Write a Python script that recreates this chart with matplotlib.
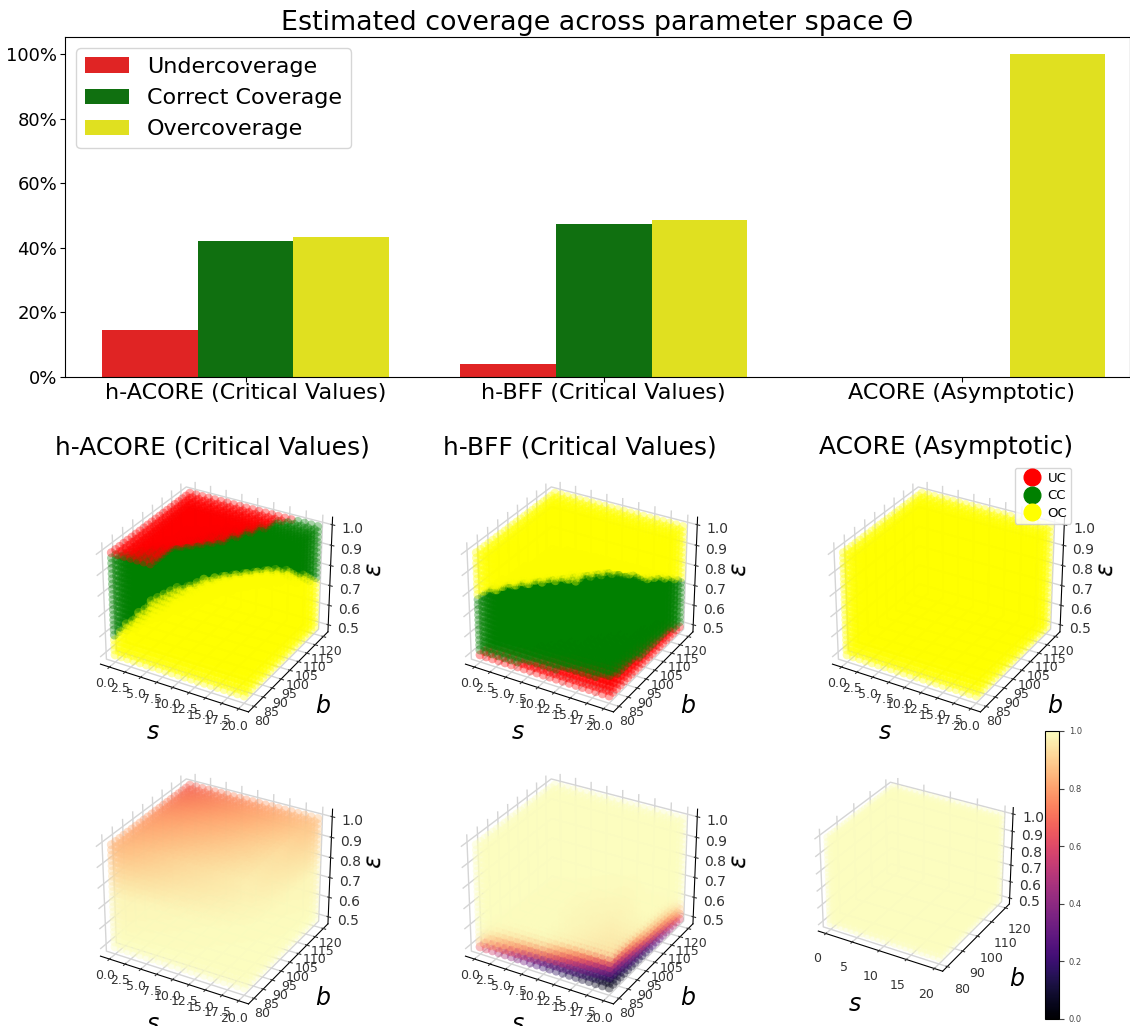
import numpy as np
import matplotlib
matplotlib.use("Agg")
import matplotlib.pyplot as plt
from matplotlib.lines import Line2D

methods = ["h-ACORE (Critical Values)", "h-BFF (Critical Values)", "ACORE (Asymptotic)"]
undercoverage = [0.145, 0.04, 0.0]
correct_coverage = [0.422, 0.475, 0.0]
overcoverage = [0.433, 0.485, 1.0]

s_levels = np.arange(0, 20.5, 1.0)
b_levels = np.arange(80, 122, 2.0)
eps_levels = np.arange(0.5, 1.001, 0.025)

# values, rows are b, columns are s
s_knots = [0, 5, 10, 15, 20]
b_knots = [80, 90, 100, 110, 120]
acore_uc_edge = [[1.00, 0.98, 1.08, 1.20, 1.30],
                 [0.93, 0.97, 1.05, 1.15, 1.25],
                 [0.88, 0.93, 0.98, 1.06, 1.15],
                 [0.85, 0.90, 0.95, 1.02, 1.10],
                 [0.82, 0.87, 0.92, 0.99, 1.03]]
acore_oc_edge = [[0.60, 0.80, 0.93, 1.02, 1.08],
                 [0.55, 0.70, 0.84, 0.95, 1.02],
                 [0.52, 0.62, 0.75, 0.87, 0.95],
                 [0.50, 0.58, 0.68, 0.78, 0.85],
                 [0.48, 0.55, 0.62, 0.68, 0.73]]
bff_uc_edge = [[0.51, 0.52, 0.54, 0.56, 0.58],
               [0.49, 0.50, 0.52, 0.54, 0.56],
               [0.48, 0.49, 0.50, 0.52, 0.54],
               [0.47, 0.48, 0.49, 0.50, 0.53],
               [0.46, 0.47, 0.48, 0.49, 0.52]]
bff_oc_edge = [[0.79, 0.88, 0.95, 1.00, 1.05],
               [0.78, 0.84, 0.90, 0.96, 1.00],
               [0.76, 0.80, 0.85, 0.88, 0.90],
               [0.74, 0.77, 0.80, 0.81, 0.82],
               [0.72, 0.74, 0.75, 0.75, 0.74]]

# coverage tables: one layer per eps knot, rows are b, columns are s
cov_s_knots = [0, 10, 20]
cov_b_knots = [80, 100, 120]
acore_eps_knots = [0.5, 0.75, 1.0]
acore_cov = [[[1, 1, 1], [1, 1, 1], [1, 1, 1]],
             [[0.98, 0.99, 1.0], [0.96, 0.98, 0.99], [0.93, 0.96, 0.98]],
             [[0.85, 0.92, 0.97], [0.78, 0.85, 0.93], [0.68, 0.78, 0.87]]]
bff_eps_knots = [0.5, 0.525, 0.55, 0.6, 0.65, 1.0]
bff_cov = [[[0.65, 0.20, 0.03], [0.80, 0.45, 0.15], [0.95, 0.75, 0.60]],
           [[0.90, 0.40, 0.08], [0.95, 0.70, 0.35], [1.00, 0.90, 0.75]],
           [[0.97, 0.70, 0.20], [1.00, 0.90, 0.60], [1.00, 1.00, 0.90]],
           [[1.00, 0.95, 0.55], [1.00, 1.00, 0.90], [1.00, 1.00, 1.00]],
           [[1.00, 1.00, 0.95], [1.00, 1.00, 1.00], [1.00, 1.00, 1.00]],
           [[1, 1, 1], [1, 1, 1], [1, 1, 1]]]

W, H = 1130, 1026
RED, GREEN, YELLOW = "#e02424", "#107010", "#e0e020"

S, B, E = [a.ravel() for a in np.meshgrid(s_levels, b_levels, eps_levels, indexing="ij")]


def surface(table, sk, bk, s, b):
    rows = np.array([np.interp(s, sk, r) for r in table])
    out = np.zeros(len(s))
    for k in range(len(s)):
        out[k] = np.interp(b[k], bk, rows[:, k])
    return out


def coverage(layers, ek):
    vals = np.array([surface(t, cov_s_knots, cov_b_knots, S, B) for t in layers])
    out = np.zeros(len(S))
    for k in range(len(S)):
        out[k] = np.interp(E[k], ek, vals[:, k])
    return out


def add3d(x, y, w, h):
    # pixel box to figure fraction
    a = fig.add_axes([x / W, 1 - (y + h) / H, w / W, h / H], projection="3d")
    a.patch.set_alpha(0)
    a.set_box_aspect((4, 4, 3.15), zoom=0.89)
    return a


def dress(ax, s_step=2.5, b_step=5, pad=-2, labelpad=4):
    ax.set_xticks(np.arange(0, 20.1, s_step))
    ax.set_yticks(np.arange(80, 120.1, b_step))
    ax.set_zticks(np.arange(0.5, 1.01, 0.1))
    ax.tick_params(axis="both", labelsize=9, pad=pad, colors="#333333")
    ax.tick_params(axis="z", labelsize=10, pad=2)
    ax.set_xlabel("$s$", fontsize=17, labelpad=labelpad)
    ax.set_ylabel("$b$", fontsize=17, labelpad=labelpad)
    ax.set_zlabel(r"$\epsilon$", fontsize=17, labelpad=1)
    for axis in [ax.xaxis, ax.yaxis, ax.zaxis]:
        axis.pane.set_facecolor((1, 1, 1, 0))
        axis.pane.set_edgecolor((1, 1, 1, 0))
        axis._axinfo["grid"]["color"] = "#d5d5d5"
        axis._axinfo["grid"]["linewidth"] = 1.0


fig = plt.figure(figsize=(W / 100, H / 100), dpi=100)

pos_top = [(62, 445), (427, 445), (794, 445)]
pos_bot = [(62, 737), (427, 737)]
size = 300

# top row, classified points
acore_uc = surface(acore_uc_edge, s_knots, b_knots, S, B)
acore_oc = surface(acore_oc_edge, s_knots, b_knots, S, B)
bff_uc = surface(bff_uc_edge, s_knots, b_knots, S, B)
bff_oc = surface(bff_oc_edge, s_knots, b_knots, S, B)

acore_cols = np.where(E > acore_uc, "red", np.where(E < acore_oc, "yellow", "green"))
bff_cols = np.where(E < bff_uc, "red", np.where(E > bff_oc, "yellow", "green"))
asym_cols = np.full(len(S), "yellow")

for p, cols in zip(pos_top, [acore_cols, bff_cols, asym_cols]):
    a3 = add3d(p[0], p[1], size, size)
    a3.scatter(S, B, E, c=list(cols), s=42, alpha=0.35, linewidths=0, depthshade=False)
    dress(a3)

for cx, name in zip([212, 579.5, 946.5], methods):
    fig.text(cx / W, 1 - 447 / H, name, fontsize=17.9, ha="center", va="center")

handles = [Line2D([], [], marker="o", ls="", color=c, markersize=12) for c in ["red", "green", "yellow"]]
fig.legend(handles, ["UC", "CC", "OC"], loc="upper left", bbox_to_anchor=(1008 / W, 1 - 461 / H),
           fontsize=9.5, borderpad=0.3, handletextpad=0.2, labelspacing=0.35)

# bottom row, estimated coverage
c_acore = coverage(acore_cov, acore_eps_knots)
c_bff = coverage(bff_cov, bff_eps_knots)
c_asym = np.ones(len(S))

for p, c in zip(pos_bot, [c_acore, c_bff]):
    a3 = add3d(p[0], p[1], size, size)
    a3.scatter(S, B, E, c=c, cmap="magma", vmin=0, vmax=1, s=42, alpha=0.4, linewidths=0, depthshade=False)
    dress(a3)

a3 = add3d(786, 747, 252, 252)
a3.scatter(S, B, E, c=c_asym, cmap="magma", vmin=0, vmax=1, s=36, alpha=0.4, linewidths=0, depthshade=False)
dress(a3, s_step=5, b_step=10, pad=3, labelpad=9)
a3.set_zlabel("")

ax = fig.add_axes([65 / W, 1 - 377 / H, (W - 65) / W, 340 / H])
x = np.arange(len(methods))
bw = 0.8 / 3
ax.bar(x - bw, undercoverage, bw, color=RED, label="Undercoverage")
ax.bar(x, correct_coverage, bw, color=GREEN, label="Correct Coverage")
ax.bar(x + bw, overcoverage, bw, color=YELLOW, label="Overcoverage")
ax.set_xlim(-0.504, 2.469)
ax.set_ylim(0, 1.053)
ax.set_xticks(x)
ax.set_xticklabels(methods, fontsize=16)
ax.tick_params(axis="x", pad=1)
ax.tick_params(axis="y", pad=2)
ax.set_yticks(np.arange(0, 1.01, 0.2))
ax.set_yticklabels(["%d%%" % v for v in range(0, 101, 20)], fontsize=13)
ax.set_title("Estimated coverage across parameter space \u0398", fontsize=19.4, pad=5)
ax.legend(loc="upper left", fontsize=16)

cax = fig.add_axes([1045 / W, 1 - 1019 / H, 14 / W, 288 / H])
cb = fig.colorbar(plt.cm.ScalarMappable(norm=plt.Normalize(0, 1), cmap="magma"), cax=cax)
cb.set_ticks([0, 0.2, 0.4, 0.6, 0.8, 1.0])
cb.ax.tick_params(labelsize=6, colors="#444444")

fig.savefig("out.png", dpi=100)
